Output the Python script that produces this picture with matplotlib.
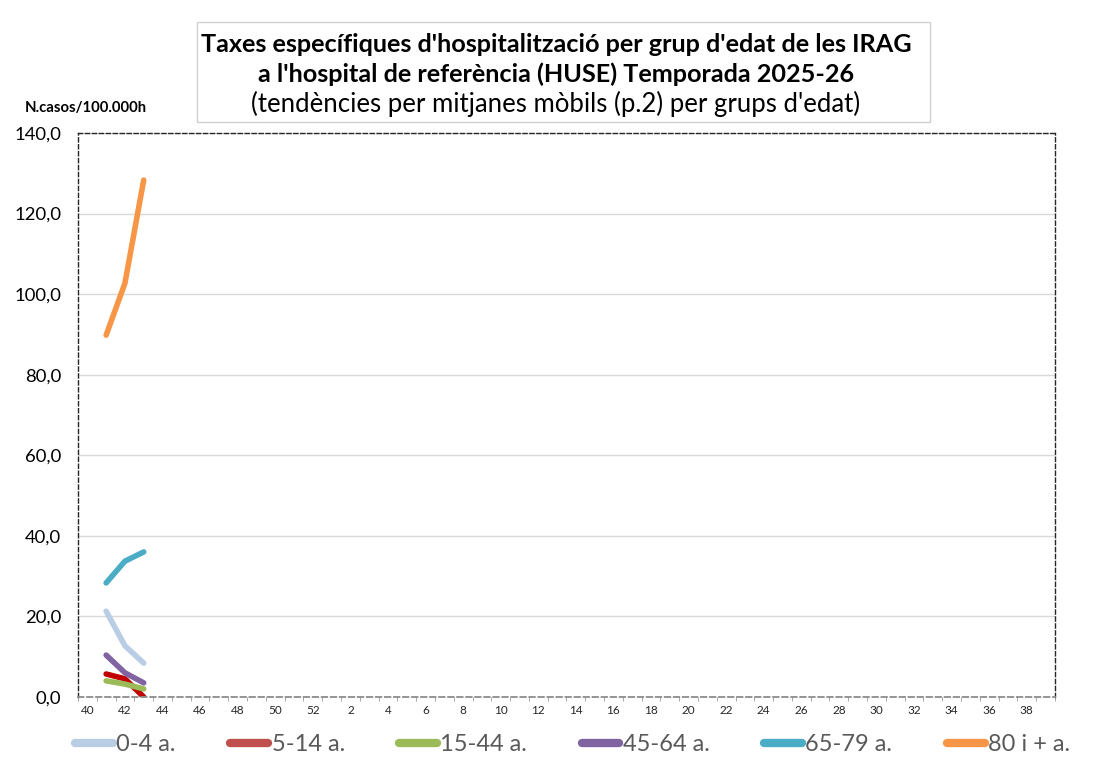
import matplotlib.pyplot as plt
from matplotlib.lines import Line2D

weeks = list(range(40, 53)) + list(range(1, 40))
groups = ["0-4 a.", "5-14 a.", "15-44 a.", "45-64 a.", "65-79 a.", "80 i + a."]
line_colors = ["#B9CDE5", "#C00000", "#9BBB59", "#8064A2", "#4BACC6", "#F79646"]
legend_colors = ["#B9CDE5", "#C0504D", "#9BBB59", "#8064A2", "#4BACC6", "#F79646"]

# values for weeks 41, 42, 43
g0_4 = [21.3, 12.7, 8.4]
g5_14 = [5.7, 4.5, 0.0]
g15_44 = [4.0, 3.2, 2.0]
g45_64 = [10.4, 6.0, 3.5]
g65_79 = [28.3, 33.7, 36.0]
g80 = [89.8, 102.7, 128.3]
series = [g0_4, g5_14, g15_44, g45_64, g65_79, g80]
data_weeks = [41, 42, 43]

plt.rcParams["font.family"] = ["Lato", "DejaVu Sans"]

fig = plt.figure(figsize=(11.12, 7.72), dpi=100)
ax = fig.add_axes([0.0701, 0.0972, 0.8786, 0.7306])

xpos = [weeks.index(w) for w in data_weeks]
for vals, col in zip(series, line_colors):
    ax.plot(xpos, vals, color=col, lw=4, solid_capstyle="round",
            solid_joinstyle="round")

ax.set_xlim(-0.5, len(weeks) - 0.5)
ax.set_ylim(0, 140)
ax.set_yticks(range(0, 141, 20))
ax.set_yticklabels([f"{v},0" for v in range(0, 141, 20)], fontsize=13.3)
ax.set_xticks(range(0, len(weeks), 2))
ax.set_xticklabels([str(w) for w in weeks[::2]], fontsize=8.5, color="#262626")
ax.set_xticks([i + 0.5 for i in range(-1, len(weeks))], minor=True)
ax.tick_params(axis="x", which="major", length=0, pad=6)
ax.tick_params(axis="x", which="minor", length=3, color="#999999")
ax.tick_params(axis="y", length=0, pad=12)
ax.grid(axis="y", color="#D9D9D9", lw=1)
ax.set_axisbelow(True)

for side in ["left", "top", "right"]:
    ax.spines[side].set_linestyle((0, (3, 2)))
    ax.spines[side].set_color("#262626")
    ax.spines[side].set_linewidth(1)
ax.spines["bottom"].set_linestyle((0, (3, 2)))
ax.spines["bottom"].set_color("#8C8C8C")
ax.spines["bottom"].set_linewidth(1.3)

fig.text(0.5, 0.942, "Taxes específiques d'hospitalització per grup d'edat de les IRAG",
         ha="center", va="center", fontsize=18.2, fontweight="bold")
fig.text(0.5, 0.904, "a l'hospital de referència (HUSE) Temporada 2025-26",
         ha="center", va="center", fontsize=18.2, fontweight="bold")
fig.text(0.5, 0.866, "(tendències per mitjanes mòbils (p.2) per grups d'edat)",
         ha="center", va="center", fontsize=18.5)
fig.patches.append(plt.Rectangle((197 / 1112, 1 - 122 / 772), 733 / 1112, 100 / 772,
                                 transform=fig.transFigure, fill=False,
                                 edgecolor="#D0D0D0", lw=1))
fig.text(25 / 1112, 1 - 108 / 772, "N.casos/100.000h", ha="left", va="center",
         fontsize=10.7, fontweight="bold")

handles = [Line2D([], [], color=c, lw=6, solid_capstyle="round") for c in legend_colors]
leg = fig.legend(handles, groups, loc="center", bbox_to_anchor=(0.515, 0.035), ncol=6,
                 frameon=False, fontsize=17, handlelength=1.6, handletextpad=0.15,
                 columnspacing=2.3)
for t in leg.get_texts():
    t.set_color("#595959")

fig.savefig("out.png", dpi=100)
